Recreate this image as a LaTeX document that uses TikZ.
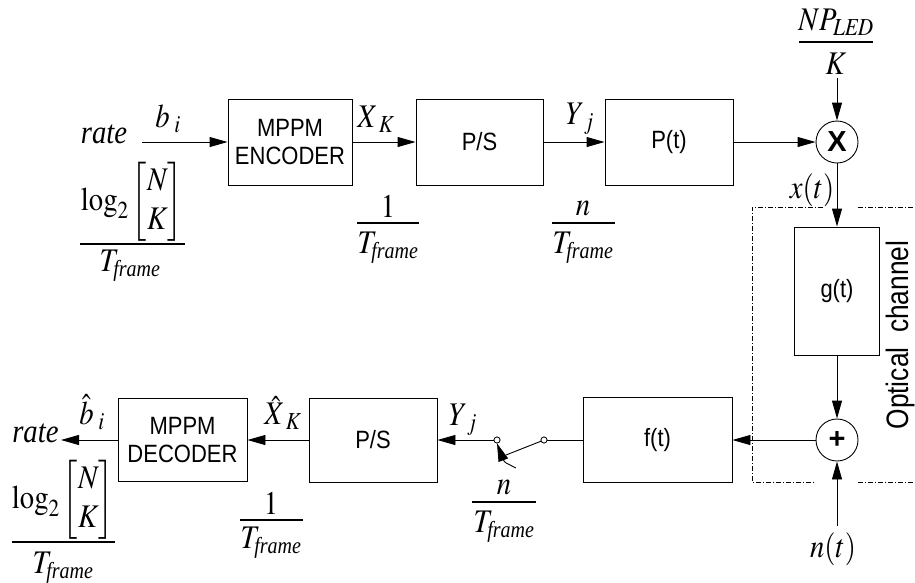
\documentclass[tikz,border=0pt]{standalone}
\usepackage{amsmath}
\usepackage{mathptmx}
\usepackage[no-math]{fontspec}
\setmainfont{Liberation Serif}
\newfontfamily\arialfont{Liberation Sans}
\usetikzlibrary{arrows.meta}
\newcommand{\sqz}[1]{\scalebox{0.87}[1]{#1}}
\newcommand{\bsq}[1]{\scalebox{0.88}[1]{#1}}
\newcommand{\mth}[1]{\sqz{$#1$}}
\newcommand{\tfr}{T_{\mbox{\fontsize{23}{23}\selectfont\itshape frame}}}
\begin{document}
\begin{tikzpicture}[x=1pt,y=-1pt,line width=0.9pt,
  box/.style={draw,rectangle,inner sep=0pt,align=center,font=\arialfont\fontsize{25}{28}\selectfont},
  lbl/.style={inner sep=0pt,font=\fontsize{33}{39}\selectfont},
  arr/.style={-{Triangle[length=18pt,width=10pt]}},
  fracline/.style={line width=1.1pt},
  dashdot/.style={line width=0.8pt,dash pattern=on 5pt off 2pt on 1pt off 2pt},
  sumnode/.style={draw,circle,inner sep=0pt,minimum size=42pt,font=\arialfont\bfseries\fontsize{29}{30}\selectfont},
  swc/.style={draw,circle,inner sep=0pt,minimum size=6pt,fill=white,line width=0.7pt}]
\useasboundingbox (0,0) rectangle (915,582);

% ---- top row blocks
\node[box,minimum width=124pt,minimum height=86pt] (enc) at (290,142) {\bsq{MPPM}\\\bsq{ENCODER}};
\node[box,minimum width=127pt,minimum height=86pt] (ps1) at (479.5,142) {\bsq{P/S}};
\node[box,minimum width=128pt,minimum height=86pt] (pt) at (669,142) {\bsq{P(t)}};
\node[sumnode] (mul) at (837,142) {X};
\node[box,minimum width=85pt,minimum height=128pt] (gt) at (837,291) {\bsq{g(t)}};
\node[sumnode] (add) at (837,440) {+};

% ---- bottom row blocks
\node[box,minimum width=149pt,minimum height=85pt] (ft) at (657.5,440) {\bsq{f(t)}};
\node[box,minimum width=128pt,minimum height=84pt] (ps2) at (373,440) {\bsq{P/S}};
\node[box,minimum width=129pt,minimum height=83pt] (dec) at (182.5,440) {\bsq{MPPM}\\\bsq{DECODER}};

% ---- switch
\node[swc] (sw1) at (497,440) {};
\node[swc] (sw2) at (544,440) {};
\coordinate (blade) at (506,455);
\coordinate (ctail) at (516,468);

% ---- free ends
\coordinate (rin) at (142,142);
\coordinate (rtip) at (61,440);
\coordinate (npktail) at (837,78);
\coordinate (ntail) at (837,526);

% ---- top labels
\node[lbl,anchor=base] (rate1) at (104,143) {\sqz{\itshape rate}};
\node[lbl] (bi) at (168,119) {\mth{b_{\;i}}};
\node[lbl] (lognum1) at (132,202) {\mth{\log_2\begin{bmatrix}N\\K\end{bmatrix}}};
\node[lbl] (logden1) at (130,266) {\mth{\tfr}};
\draw[fracline] (80,244) -- (185,244);

\node[lbl] (xk) at (376,119) {\mth{X_{\;K}}};
\node[lbl] (onenum1) at (388,206) {\mth{1}};
\node[lbl] (oneden1) at (388,248) {\mth{\tfr}};
\draw[fracline] (357,223) -- (419,223);

\node[lbl] (yj1) at (580,119) {\mth{Y_{\;j}}};
\node[lbl] (nnum1) at (583,209) {\mth{n}};
\node[lbl] (nden1) at (583,248) {\mth{\tfr}};
\draw[fracline] (552,223) -- (615,223);

\node[lbl] (npnum) at (836,22) {\mth{NP_{\mathit{LED}}}};
\node[lbl] (npden) at (836,64) {\mth{K}};
\draw[fracline] (799,42) -- (873,42);

\node[lbl] (xt) at (812,190) {\mth{x(t)}};
\node[lbl] (nt) at (833,549) {\mth{n(t)}};

% ---- bottom labels
\node[lbl,anchor=base east] (rate2) at (59,442) {\sqz{\itshape rate}};
\node[lbl] (bhat) at (92,412) {\mth{\hat{b}_{\;i}}};
\node[lbl] (lognum2) at (63,500) {\mth{\log_2\begin{bmatrix}N\\K\end{bmatrix}}};
\node[lbl] (logden2) at (63,568) {\mth{\tfr}};
\draw[fracline] (12,542) -- (115,542);

\node[lbl] (xhat) at (283,413) {\mth{\hat{X}_{\;K}}};
\node[lbl] (onenum2) at (271,503) {\mth{1}};
\node[lbl] (oneden2) at (271,543) {\mth{\tfr}};
\draw[fracline] (240,520) -- (303,520);

\node[lbl] (yj2) at (463,420) {\mth{Y_{\;j}}};
\node[lbl] (nnum2) at (504,488) {\mth{n}};
\node[lbl] (nden2) at (504,527) {\mth{\tfr}};
\draw[fracline] (472,502) -- (536,502);

% ---- optical channel
\node[inner sep=0pt,rotate=90,font=\arialfont\fontsize{31}{36}\selectfont] (opt) at (900,335) {\scalebox{0.85}[1]{Optical\ \ channel}};
\draw[dashdot] (823,207) -- (752,207) -- (752,482) -- (815,482);
\draw[dashdot] (858,207) -- (915,207);
\draw[dashdot] (858,482) -- (915,482);

% ---- connectors
\draw[arr] (rin) -- (enc.west);
\draw[arr] (enc) -- (ps1);
\draw[arr] (ps1) -- (pt);
\draw[arr] (pt) -- (mul);
\draw[arr] (npktail) -- (mul.north);
\draw[arr] (mul) -- (gt);
\draw[arr] (gt) -- (add);
\draw[arr] (ntail) -- (add.south);
\draw[arr] (add) -- (ft);
\draw (ft.west) -- (sw2);
\draw (sw2) -- (blade);
\draw[arr] (sw1) -- (ps2.east);
\draw[arr] (ps2) -- (dec);
\draw[arr] (dec) -- (rtip);
\draw[arr] (ctail) .. controls (504,462) .. (sw1.south);
\node[swc] at (sw1) {};
\node[swc] at (sw2) {};
\end{tikzpicture}
\end{document}
